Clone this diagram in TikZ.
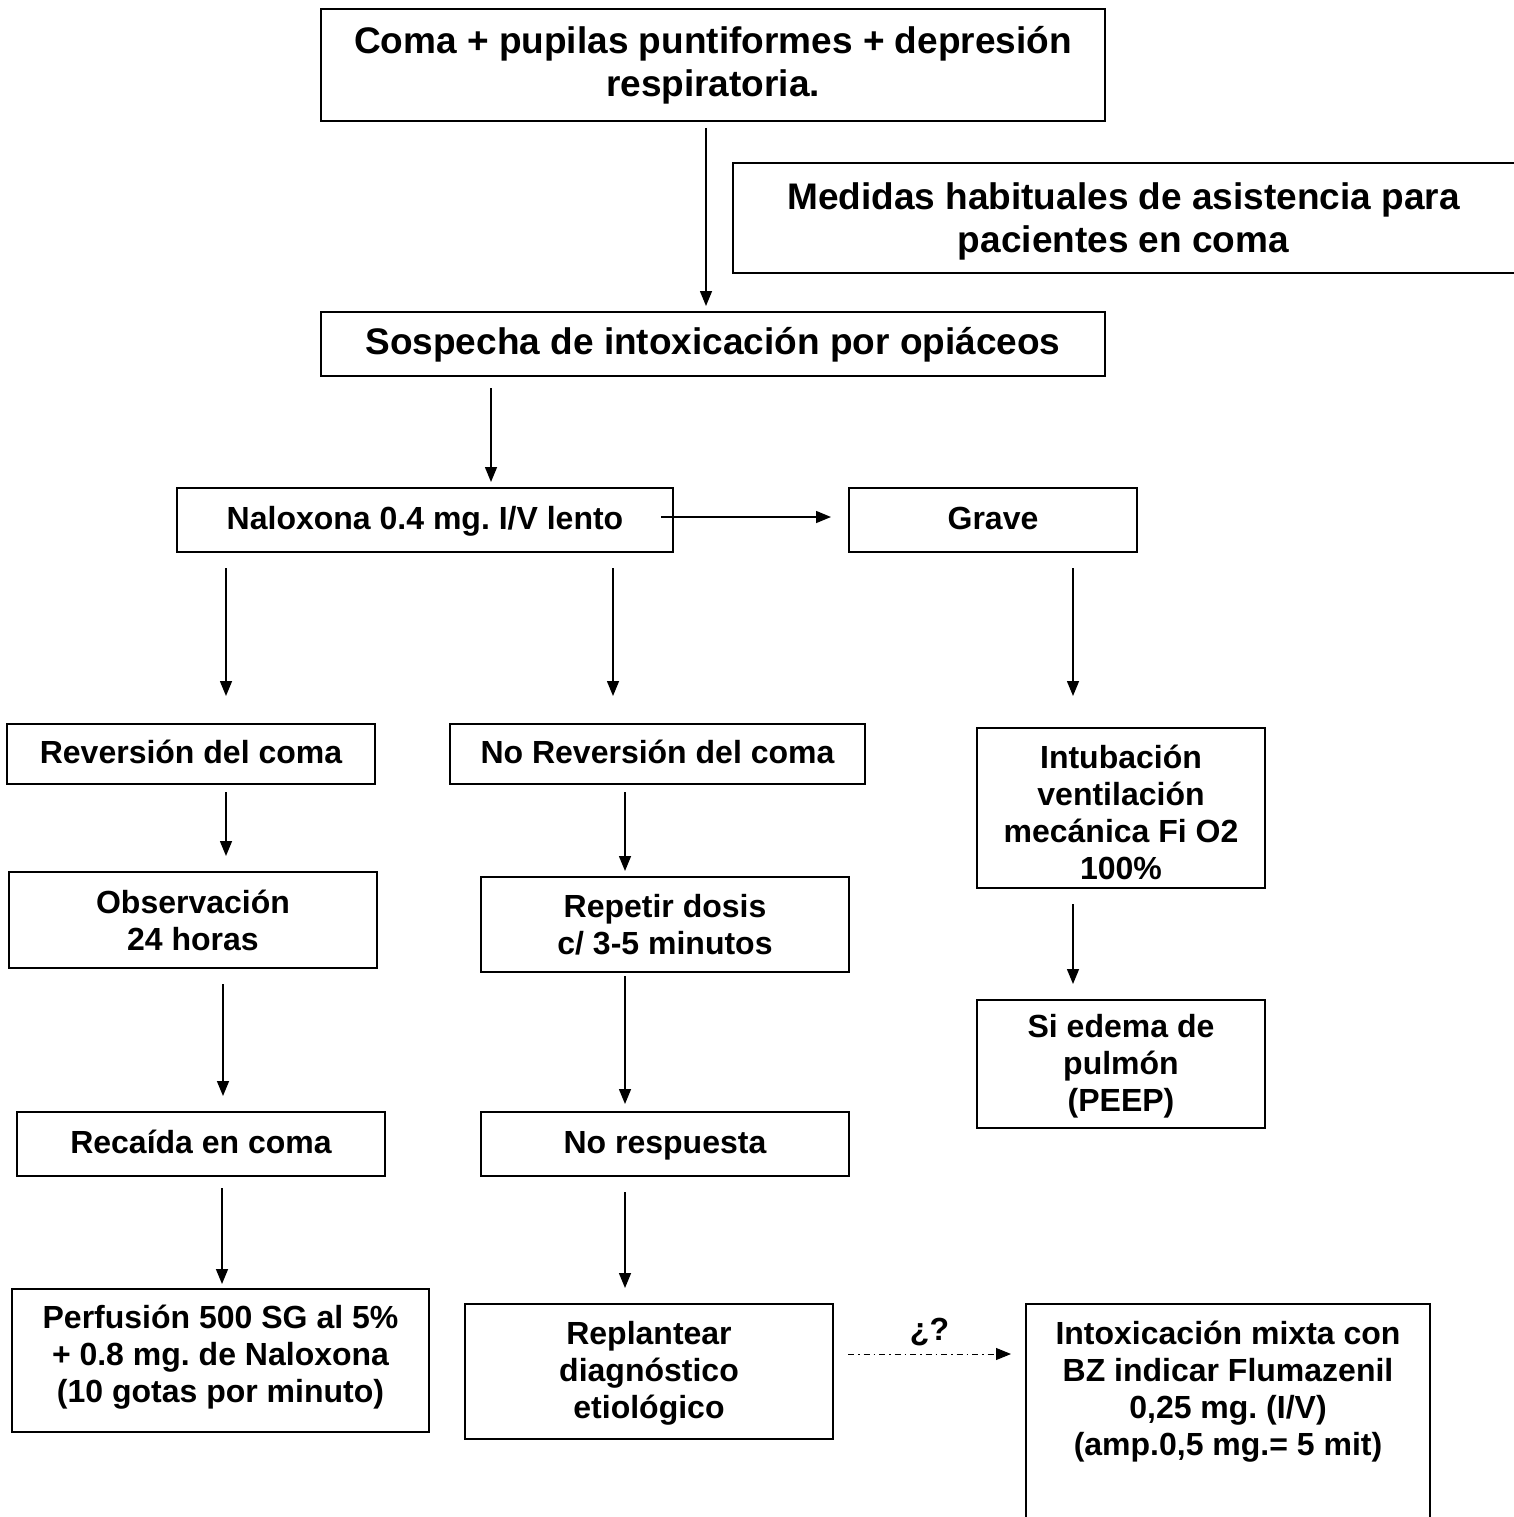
\documentclass[tikz,border=0pt]{standalone}
\usepackage{fontspec}
\setmainfont{Liberation Sans}
\usetikzlibrary{arrows.meta}
\frenchspacing
\newcommand{\bigtxt}{\fontsize{37}{43}\selectfont\bfseries\frenchspacing}
\newcommand{\smtxt}{\fontsize{32}{37}\selectfont\bfseries\frenchspacing}
\tikzset{
  boxA/.style={draw, line width=1.5pt, inner sep=0pt, align=center, font=\smtxt},
  boxB/.style={boxA, font=\bigtxt},
  oneline/.style={text height=26pt, text depth=8pt},
  onelineB/.style={text height=30pt, text depth=9pt},
  arr/.style={line width=1.5pt, -{Triangle[length=15pt,width=12pt]}},
  darr/.style={arr, line width=1pt, dash pattern=on 6pt off 4pt on 1.5pt off 4pt}
}
\begin{document}
\begin{tikzpicture}[x=1pt,y=-1pt]
\useasboundingbox (0,0) rectangle (1514,1517);
% boxes
\node[boxB, minimum width=784pt, minimum height=112pt] (coma) at (713,65) {Coma + pupilas puntiformes + depresión\\respiratoria.};
\node[boxB, draw=none, minimum width=781pt, minimum height=110pt] (med) at (1123.5,221) {Medidas habituales de asistencia para\\pacientes en coma};
\draw[line width=1.5pt] (1514,273) -- (733,273) -- (733,163) -- (1514,163);
\node[boxB, onelineB, minimum width=784pt, minimum height=64pt] (sos) at (713,344) {Sospecha de intoxicación por opiáceos};
\node[boxA, oneline, minimum width=496pt, minimum height=64pt] (nal) at (425,520) {Naloxona 0.4 mg. I/V lento};
\node[boxA, oneline, minimum width=288pt, minimum height=64pt] (grave) at (993,520) {Grave};
\node[boxA, oneline, minimum width=368pt, minimum height=60pt] (rev) at (191,754) {Reversión del coma};
\node[boxA, oneline, minimum width=415pt, minimum height=60pt] (norev) at (657.5,754) {No Reversión del coma};
\node[boxA, minimum width=288pt, minimum height=160pt] (intub) at (1121,808) {};
\node[font=\smtxt, align=center, inner sep=0pt] (intubt) at (1121,812) {Intubación\\ventilación\\mecánica Fi O2\\100\%};
\node[boxA, minimum width=368pt, minimum height=96pt] (obs) at (193,920) {Observación\\24 horas};
\node[boxA, minimum width=368pt, minimum height=95pt] (rep) at (665,924.5) {Repetir dosis\\c/ 3-5 minutos};
\node[boxA, minimum width=288pt, minimum height=128pt] (edema) at (1121,1064) {};
\node[font=\smtxt, align=center, inner sep=0pt] (edemat) at (1121,1066) {Si edema de\\pulmón\\(PEEP)};
\node[boxA, oneline, minimum width=368pt, minimum height=64pt] (reca) at (201,1144) {Recaída en coma};
\node[boxA, oneline, minimum width=368pt, minimum height=64pt] (nores) at (665,1144) {No respuesta};
\node[boxA, minimum width=417pt, minimum height=143pt] (perf) at (220.5,1360.5) {};
\node[font=\smtxt, align=center, inner sep=0pt] (perft) at (220.5,1357) {Perfusión 500 SG al 5\%\\+ 0.8 mg. de Naloxona\\(10 gotas por minuto)};
\node[boxA, minimum width=368pt, minimum height=135pt] (repl) at (649,1371.5) {};
\node[font=\smtxt, align=center, inner sep=0pt] (replt) at (649,1373) {Replantear\\diagnóstico\\etiológico};
\node[boxA, draw=none] (mix) at (1228,1392) {Intoxicación mixta con\\BZ indicar Flumazenil\\0,25 mg. (I/V)\\(amp.0,5 mg.= 5 mit)};
\draw[line width=1.5pt] (1026,1530) -- (1026,1304) -- (1430,1304) -- (1430,1530);
% arrow end points
\coordinate (a1s) at (706,128);  \coordinate (a1e) at (706,306);
\coordinate (a2s) at (491,388);  \coordinate (a2e) at (491,482);
\coordinate (a3s) at (661,517);  \coordinate (a3e) at (831,517);
\coordinate (a4s) at (226,568);  \coordinate (a4e) at (226,696);
\coordinate (a5s) at (613,568);  \coordinate (a5e) at (613,696);
\coordinate (a6s) at (1073,568); \coordinate (a6e) at (1073,696);
\coordinate (a7s) at (226,792);  \coordinate (a7e) at (226,856);
\coordinate (a8s) at (625,792);  \coordinate (a8e) at (625,871);
\coordinate (a9s) at (1073,904); \coordinate (a9e) at (1073,984);
\coordinate (a10s) at (223,984); \coordinate (a10e) at (223,1096);
\coordinate (a11s) at (625,976); \coordinate (a11e) at (625,1104);
\coordinate (a12s) at (222,1188); \coordinate (a12e) at (222,1284);
\coordinate (a13s) at (625,1192); \coordinate (a13e) at (625,1288);
\coordinate (dqs) at (848,1354); \coordinate (dqe) at (1011,1354);
\draw[arr] (a1s) -- (a1e);
\draw[arr] (a2s) -- (a2e);
\draw[arr] (a3s) -- (a3e);
\draw[arr] (a4s) -- (a4e);
\draw[arr] (a5s) -- (a5e);
\draw[arr] (a6s) -- (a6e);
\draw[arr] (a7s) -- (a7e);
\draw[arr] (a8s) -- (a8e);
\draw[arr] (a9s) -- (a9e);
\draw[arr] (a10s) -- (a10e);
\draw[arr] (a11s) -- (a11e);
\draw[arr] (a12s) -- (a12e);
\draw[arr] (a13s) -- (a13e);
\draw[darr] (dqs) -- node[above=8pt, font=\smtxt, inner sep=0pt] (q) {¿?} (dqe);
\end{tikzpicture}
\end{document}
